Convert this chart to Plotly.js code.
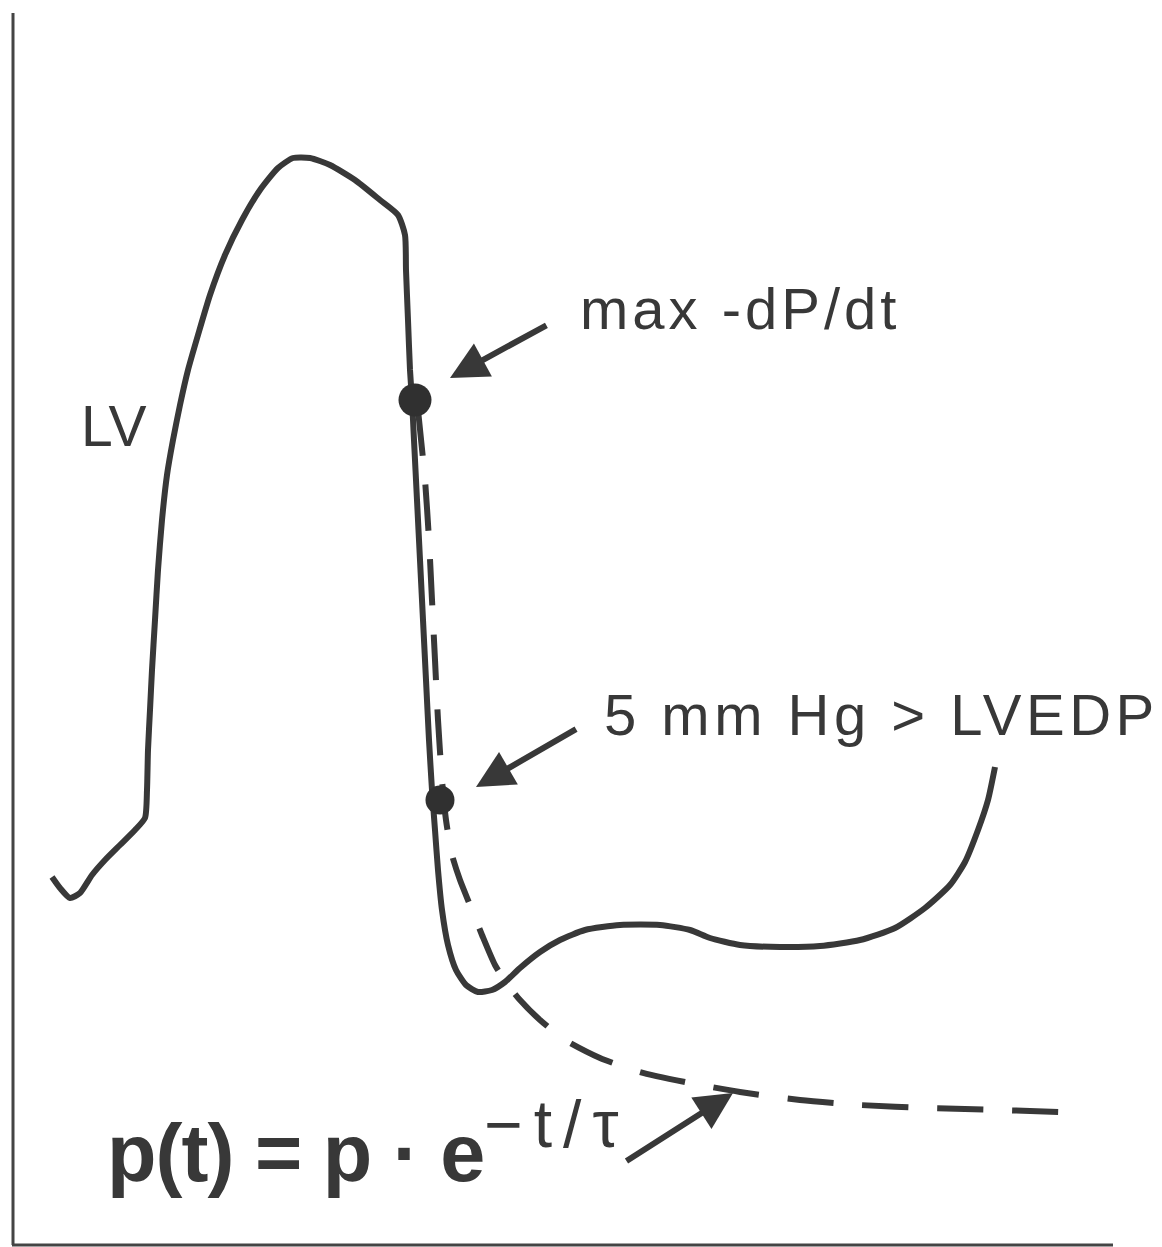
<!DOCTYPE html>
<html>
<head>
<meta charset="utf-8">
<script src="https://cdn.plot.ly/plotly-3.0.1.min.js"></script>
<style>
  html, body { margin: 0; padding: 0; background: #ffffff; }
  #chart { width: 1162px; height: 1247px; }
</style>
</head>
<body>
<div id="chart"></div>
<script>
// Left-ventricular pressure over one beat (time in ms, pressure in mmHg)
const lvTime = [40, 48, 58, 68, 80, 93, 108, 123, 133, 135, 136, 138, 140, 143, 146, 150, 155, 161, 168, 176,
  186, 198, 213, 230, 248, 266, 281, 298, 318, 343, 368, 386, 393, 394, 396, 398, 400, 402, 405, 408,
  411, 414, 417, 420, 423, 426, 430, 436, 444, 454, 466, 480, 493, 508, 528, 548, 573, 608, 648, 678,
  698, 728, 768, 808, 848, 883, 913, 938, 953, 966, 976, 983];
const lvPressure = [36.8, 35.7, 34.7, 35.2, 37.0, 38.5, 40.0, 41.5, 42.7, 45.5, 49.5, 53.5, 57.5, 62.5, 67.5, 72.5, 77.0, 80.5, 84.0, 87.5,
  91.0, 95.0, 99.0, 102.5, 105.5, 107.7, 108.7, 108.7, 108.0, 106.5, 104.5, 103.0, 101.0, 97.5, 92.5, 87.5, 84.5, 80.5, 74.5, 68.5,
  62.5, 56.5, 50.5, 45.5, 41.5, 37.5, 33.5, 30.0, 27.5, 26.0, 25.3, 25.5, 26.3, 27.7, 29.3, 30.5, 31.5, 32.0, 32.0, 31.5,
  30.7, 30.0, 29.8, 29.9, 30.5, 31.7, 33.7, 36.0, 38.3, 41.5, 44.5, 47.8];

// Mono-exponential fit of the isovolumic pressure fall, p(t) = p · e^(−t/τ)
const fitTime = [406, 413, 417, 420, 423, 426, 430, 434, 440, 448, 458, 470, 483, 496, 508, 528, 553, 588, 628, 678,
  728, 788, 848, 918, 988, 1048];
const fitPressure = [83.5, 76.5, 70.5, 64.5, 58.5, 52.5, 46.5, 42.5, 39.0, 36.5, 34.0, 31.0, 28.0, 26.0, 24.5, 22.5, 20.5, 18.7, 17.3, 16.2,
  15.3, 14.5, 14.0, 13.7, 13.5, 13.3];

// Marked points: peak negative dP/dt and 5 mmHg above end-diastolic pressure
const pointLabels = ["max -dP/dt", "5 mm Hg > LVEDP"];
const pointTime = [403, 428];
const pointPressure = [84.5, 44.5];

// Where each label sits (left edge, vertical middle) and where its arrow points
const labelTime = [566, 590];
const labelPressure = [93.7, 53.1];
const labelArrowTime = [438, 464];
const labelArrowPressure = [86.7, 45.8];

// Formula text and its arrow onto the fitted curve
const formulaTime = 93;
const formulaPressure = 10.3;
const formulaArrowTail = [613, 8.3];
const formulaArrowHead = [721, 15.2];

const ink = "#383838";
const font = "Liberation Sans, Arial, Helvetica, sans-serif";

const traces = [
  {
    x: lvTime, y: lvPressure, type: "scatter", mode: "lines",
    line: { color: ink, width: 6, shape: "spline", smoothing: 0.6 },
    hoverinfo: "skip"
  },
  {
    x: fitTime, y: fitPressure, type: "scatter", mode: "lines",
    line: { color: ink, width: 6, dash: "46px,29px", shape: "spline", smoothing: 0.6 },
    hoverinfo: "skip"
  },
  {
    x: pointTime, y: pointPressure, type: "scatter", mode: "markers",
    marker: { color: "#303030", opacity: 1, size: [33, 29], line: { width: 0 } },
    hoverinfo: "skip"
  }
];

const labelSizes = [58, 58];
const labelSpacing = ["4px", "4.5px"];
const labelStandoff = [36, 30];

const annotations = [
  {
    x: 102, y: 81.9, xref: "x", yref: "y", text: "LV", showarrow: false,
    xanchor: "center", yanchor: "middle",
    font: { family: font, size: 57, color: ink }
  },
  {
    x: formulaTime, y: formulaPressure, xref: "x", yref: "y",
    text: "<b><span style=\"letter-spacing:-1px\">p(t) = p · e</span></b>" +
      "<sup><span style=\"font-size:66px;letter-spacing:11px\">−t/τ</span></sup>",
    showarrow: false, xanchor: "left", yanchor: "middle",
    font: { family: font, size: 81, color: ink }
  },
  {
    x: formulaArrowHead[0], y: formulaArrowHead[1], xref: "x", yref: "y",
    ax: formulaArrowTail[0], ay: formulaArrowTail[1], axref: "x", ayref: "y",
    text: "", showarrow: true, arrowhead: 2, arrowsize: 1.25, arrowwidth: 6,
    arrowcolor: ink, standoff: 0, startstandoff: 0
  }
];

for (let i = 0; i < pointLabels.length; i++) {
  annotations.push({
    x: labelArrowTime[i], y: labelArrowPressure[i], xref: "x", yref: "y",
    ax: labelTime[i], ay: labelPressure[i], axref: "x", ayref: "y",
    text: "<span style=\"letter-spacing:" + labelSpacing[i] + "\">" + pointLabels[i] + "</span>",
    xanchor: "left", yanchor: "middle",
    font: { family: font, size: labelSizes[i], color: ink },
    showarrow: true, arrowhead: 2, arrowsize: 1.25, arrowwidth: 6,
    arrowcolor: ink, standoff: 0, startstandoff: labelStandoff[i]
  });
}

const layout = {
  width: 1162, height: 1247,
  margin: { l: 0, r: 0, t: 0, b: 0, pad: 0 },
  paper_bgcolor: "#ffffff", plot_bgcolor: "#ffffff",
  showlegend: false,
  xaxis: { range: [-12, 1150], visible: false, fixedrange: true },
  yaxis: { range: [-0.2, 124.5], visible: false, fixedrange: true },
  shapes: [
    { type: "line", xref: "x", yref: "y", x0: 1, y0: 0, x1: 1, y1: 123.2, line: { color: "#444444", width: 3 } },
    { type: "line", xref: "x", yref: "y", x0: 0, y0: 0, x1: 1101, y1: 0, line: { color: "#444444", width: 3 } }
  ],
  annotations: annotations
};

Plotly.newPlot("chart", traces, layout, { displayModeBar: false, staticPlot: true });
</script>
</body>
</html>
